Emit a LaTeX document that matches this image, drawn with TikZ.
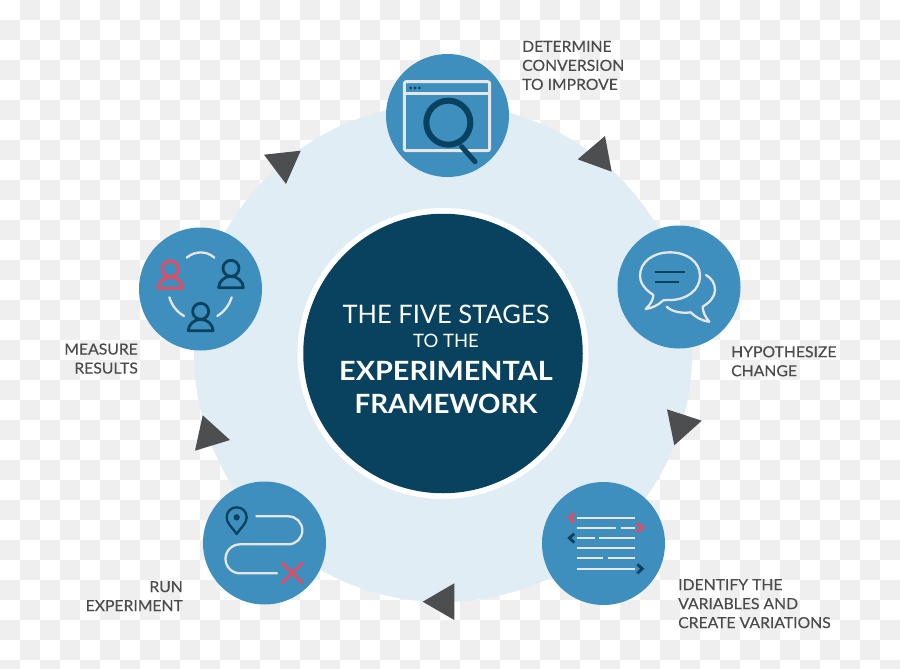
\documentclass[tikz,border=0pt]{standalone}
\usepackage{fontspec}
\setmainfont{Lato}
\newfontfamily\labelface[FakeBold=0.25,FakeStretch=1.035]{Lato}
\newfontfamily\heavyA[FakeStretch=1.087]{Lato Bold}
\newfontfamily\heavyB[FakeStretch=1.046]{Lato Bold}
\definecolor{ringblue}{HTML}{E0EDF5}
\definecolor{stageblue}{HTML}{3F8FBE}
\definecolor{deepblue}{HTML}{08425F}
\definecolor{labelgray}{HTML}{4B4B4D}
\definecolor{arrowgray}{HTML}{4D4E50}
\definecolor{iconlight}{HTML}{E6E6E6}
\definecolor{iconred}{HTML}{E9485F}
\definecolor{checkgray}{HTML}{EFEFEF}
\tikzset{
  stagecircle/.style={circle,fill=stageblue,draw=none,minimum size=123pt,inner sep=0pt},
  stagelabel/.style={anchor=north west,inner sep=0pt,text=labelgray,font=\labelface\fontsize{15.2}{19}\selectfont,align=left},
  stagelabelr/.style={anchor=north east,inner sep=0pt,text=labelgray,font=\labelface\fontsize{15.2}{19}\selectfont,align=right},
  turnarrow/.style={fill=arrowgray,draw=none},
  lightline/.style={draw=iconlight,line width=2.3pt,line cap=round,line join=round},
  darkline/.style={draw=deepblue,line width=2.3pt,line cap=round,line join=round},
  redline/.style={draw=iconred,line width=2.3pt,line cap=round,line join=round},
  zoomed/.style={scale=0.33333},
}
\begin{document}
\begin{tikzpicture}[x=1pt,y=-1pt]
\useasboundingbox (0,0) rectangle (900,669);
\fill[white] (0,0) rectangle (900,669);
\foreach \r in {0,...,33}{
  \foreach \c in {0,...,45}{
    \pgfmathparse{int(mod(\r+\c,2))}
    \ifnum\pgfmathresult=1
      \fill[checkgray] (\c*20,\r*20) rectangle ++(20,20);
    \fi
  }
}
\node[circle,fill=ringblue,minimum size=498pt,inner sep=0pt] (ring) at (443,353) {};
\node[circle,fill=white,minimum size=291pt,inner sep=0pt] (halo) at (443,353.5) {};
\node[circle,fill=deepblue,minimum size=279.5pt,inner sep=0pt] (core) at (443,353.5) {};
\node[text=white,inner sep=0pt,font=\fontsize{25.5}{25.5}\selectfont] (t1) at (446,314) {THE FIVE STAGES};
\node[text=white,inner sep=0pt,font=\fontsize{18.5}{18.5}\selectfont] (t2) at (446,341) {TO THE};
\node[text=white,inner sep=0pt,font=\heavyA\fontsize{26.5}{26.5}\selectfont] (t3) at (446,371) {EXPERIMENTAL};
\node[text=white,inner sep=0pt,font=\heavyB\fontsize{26.5}{26.5}\selectfont] (t4) at (446,403.7) {FRAMEWORK};

\node[stagecircle] (s1) at (447.5,115.5) {};
\node[stagecircle] (s2) at (679,287) {};
\node[stagecircle] (s3) at (603.5,543.5) {};
\node[stagecircle] (s4) at (264.5,543) {};
\node[stagecircle] (s5) at (200.5,289) {};

\fill[turnarrow] (605,136) -- (611.7,171.7) -- (577.7,159.3) -- cycle;
\fill[turnarrow] (264,154.7) -- (300.7,150.7) -- (286,184) -- cycle;
\fill[turnarrow] (667,409.3) -- (701.7,420.7) -- (674.3,445.3) -- cycle;
\fill[turnarrow] (422.7,601.7) -- (454.3,583.3) -- (454.3,620) -- cycle;
\fill[turnarrow] (202.7,415.3) -- (230,440) -- (195,450.7) -- cycle;

% window and magnifier
\begin{scope}[shift={(370,30)},zoomed]
  \draw[draw=iconlight,line width=3pt,rounded corners=2pt] (103,155) rectangle (359,362);
  \draw[draw=iconlight,line width=2.5pt] (103,191) -- (359,191);
  \foreach \x in {122,135,148}{\fill[deepblue] (\x,174) circle[radius=4.6];}
  \draw[draw=deepblue,line width=6pt] (235,278) circle[radius=66];
  \draw[draw=deepblue,line width=5pt,line cap=round] (275,350) -- (315,395);
\end{scope}

% speech bubbles
\begin{scope}[shift={(600,215)},zoomed]
  \draw[lightline] (160,240) .. controls (130,220) and (120,200) .. (120,183) .. controls (120,140) and (160,112) .. (210,112) .. controls (260,112) and (300,140) .. (300,183) .. controls (300,225) and (260,255) .. (210,255) .. controls (203,255) and (196,255) .. (190,256) .. controls (175,270) and (155,280) .. (137,282) .. controls (150,270) and (160,255) .. (160,240);
  \draw[lightline] (318,180) .. controls (335,190) and (345,205) .. (345,225) .. controls (345,245) and (330,262) .. (308,275) .. controls (308,290) and (315,305) .. (328,320) .. controls (305,318) and (285,305) .. (272,292) .. controls (245,296) and (215,290) .. (200,275);
  \draw[darkline,line cap=butt] (165,170) -- (254,170);
  \draw[darkline,line cap=butt] (165,200) -- (236,200);
\end{scope}

% text lines
\begin{scope}[shift={(530,475)},zoomed]
  \foreach \y/\a/\b in {128/141/314,158/141/258,158/272/314,189/141/194,189/207/314,220/141/314,250/141/220,250/234/314,281/141/314}{
    \draw[lightline,line cap=butt] (\a,\y) -- (\b,\y);
  }
  \draw[redline,line width=2.8pt,line cap=butt,line join=miter] (133,115) -- (118,128) -- (133,142);
  \draw[redline,line width=2.8pt,line cap=butt,line join=miter] (320,145) -- (338,158) -- (320,171);
  \draw[darkline,line width=2.8pt,line cap=butt,line join=miter] (133,176) -- (118,189) -- (133,203);
  \draw[darkline,line width=2.8pt,line cap=butt,line join=miter] (322,268) -- (337,281) -- (322,295);
\end{scope}

% route
\begin{scope}[shift={(195,475)},zoomed]
  \draw[lightline,line cap=butt] (182,124) -- (280,124) arc[start angle=-90,end angle=90,radius=42] -- (135,208) arc[start angle=270,end angle=90,radius=43.5] -- (248,295);
  \draw[darkline] (125,177) .. controls (110,155) and (95,145) .. (95,127) .. controls (95,110) and (108,97) .. (125,97) .. controls (142,97) and (155,110) .. (155,127) .. controls (155,145) and (140,155) .. (125,177) -- cycle;
  \fill[deepblue] (125,127) circle[radius=9.5];
  \draw[redline,line width=2.6pt,line cap=butt] (260,263) -- (323,325);
  \draw[redline,line width=2.6pt,line cap=butt] (323,263) -- (260,325);
\end{scope}

% people
\begin{scope}[shift={(130,220)},zoomed]
  \draw[lightline] (170,113) .. controls (195,92) and (230,92) .. (253,113);
  \draw[lightline] (118,232) .. controls (125,255) and (140,275) .. (162,288);
  \draw[lightline] (305,232) .. controls (298,255) and (283,275) .. (262,288);
  \foreach \px/\py/\st in {121/147/redline,303/145/darkline,212/274/darkline}{
    \begin{scope}[shift={(\px,\py)}]
      \draw[\st,line width=2.8pt] (0,0) circle[radius=24];
      \draw[\st,line width=2.8pt] (-37,58) -- (37,58) .. controls (37,40) and (20,24) .. (0,24) .. controls (-20,24) and (-37,40) .. (-37,58) -- cycle;
    \end{scope}
  }
\end{scope}

\node[stagelabel] (l1) at (522,40.7) {DETERMINE\\CONVERSION\\TO IMPROVE};
\node[stagelabel] (l2) at (731,346) {HYPOTHESIZE\\CHANGE};
\node[stagelabel] (l3) at (678,579) {IDENTIFY THE\\VARIABLES AND\\CREATE VARIATIONS};
\node[stagelabelr] (l4) at (183,581) {RUN\\EXPERIMENT};
\node[stagelabelr] (l5) at (138,343.3) {MEASURE\\RESULTS};
\end{tikzpicture}
\end{document}
